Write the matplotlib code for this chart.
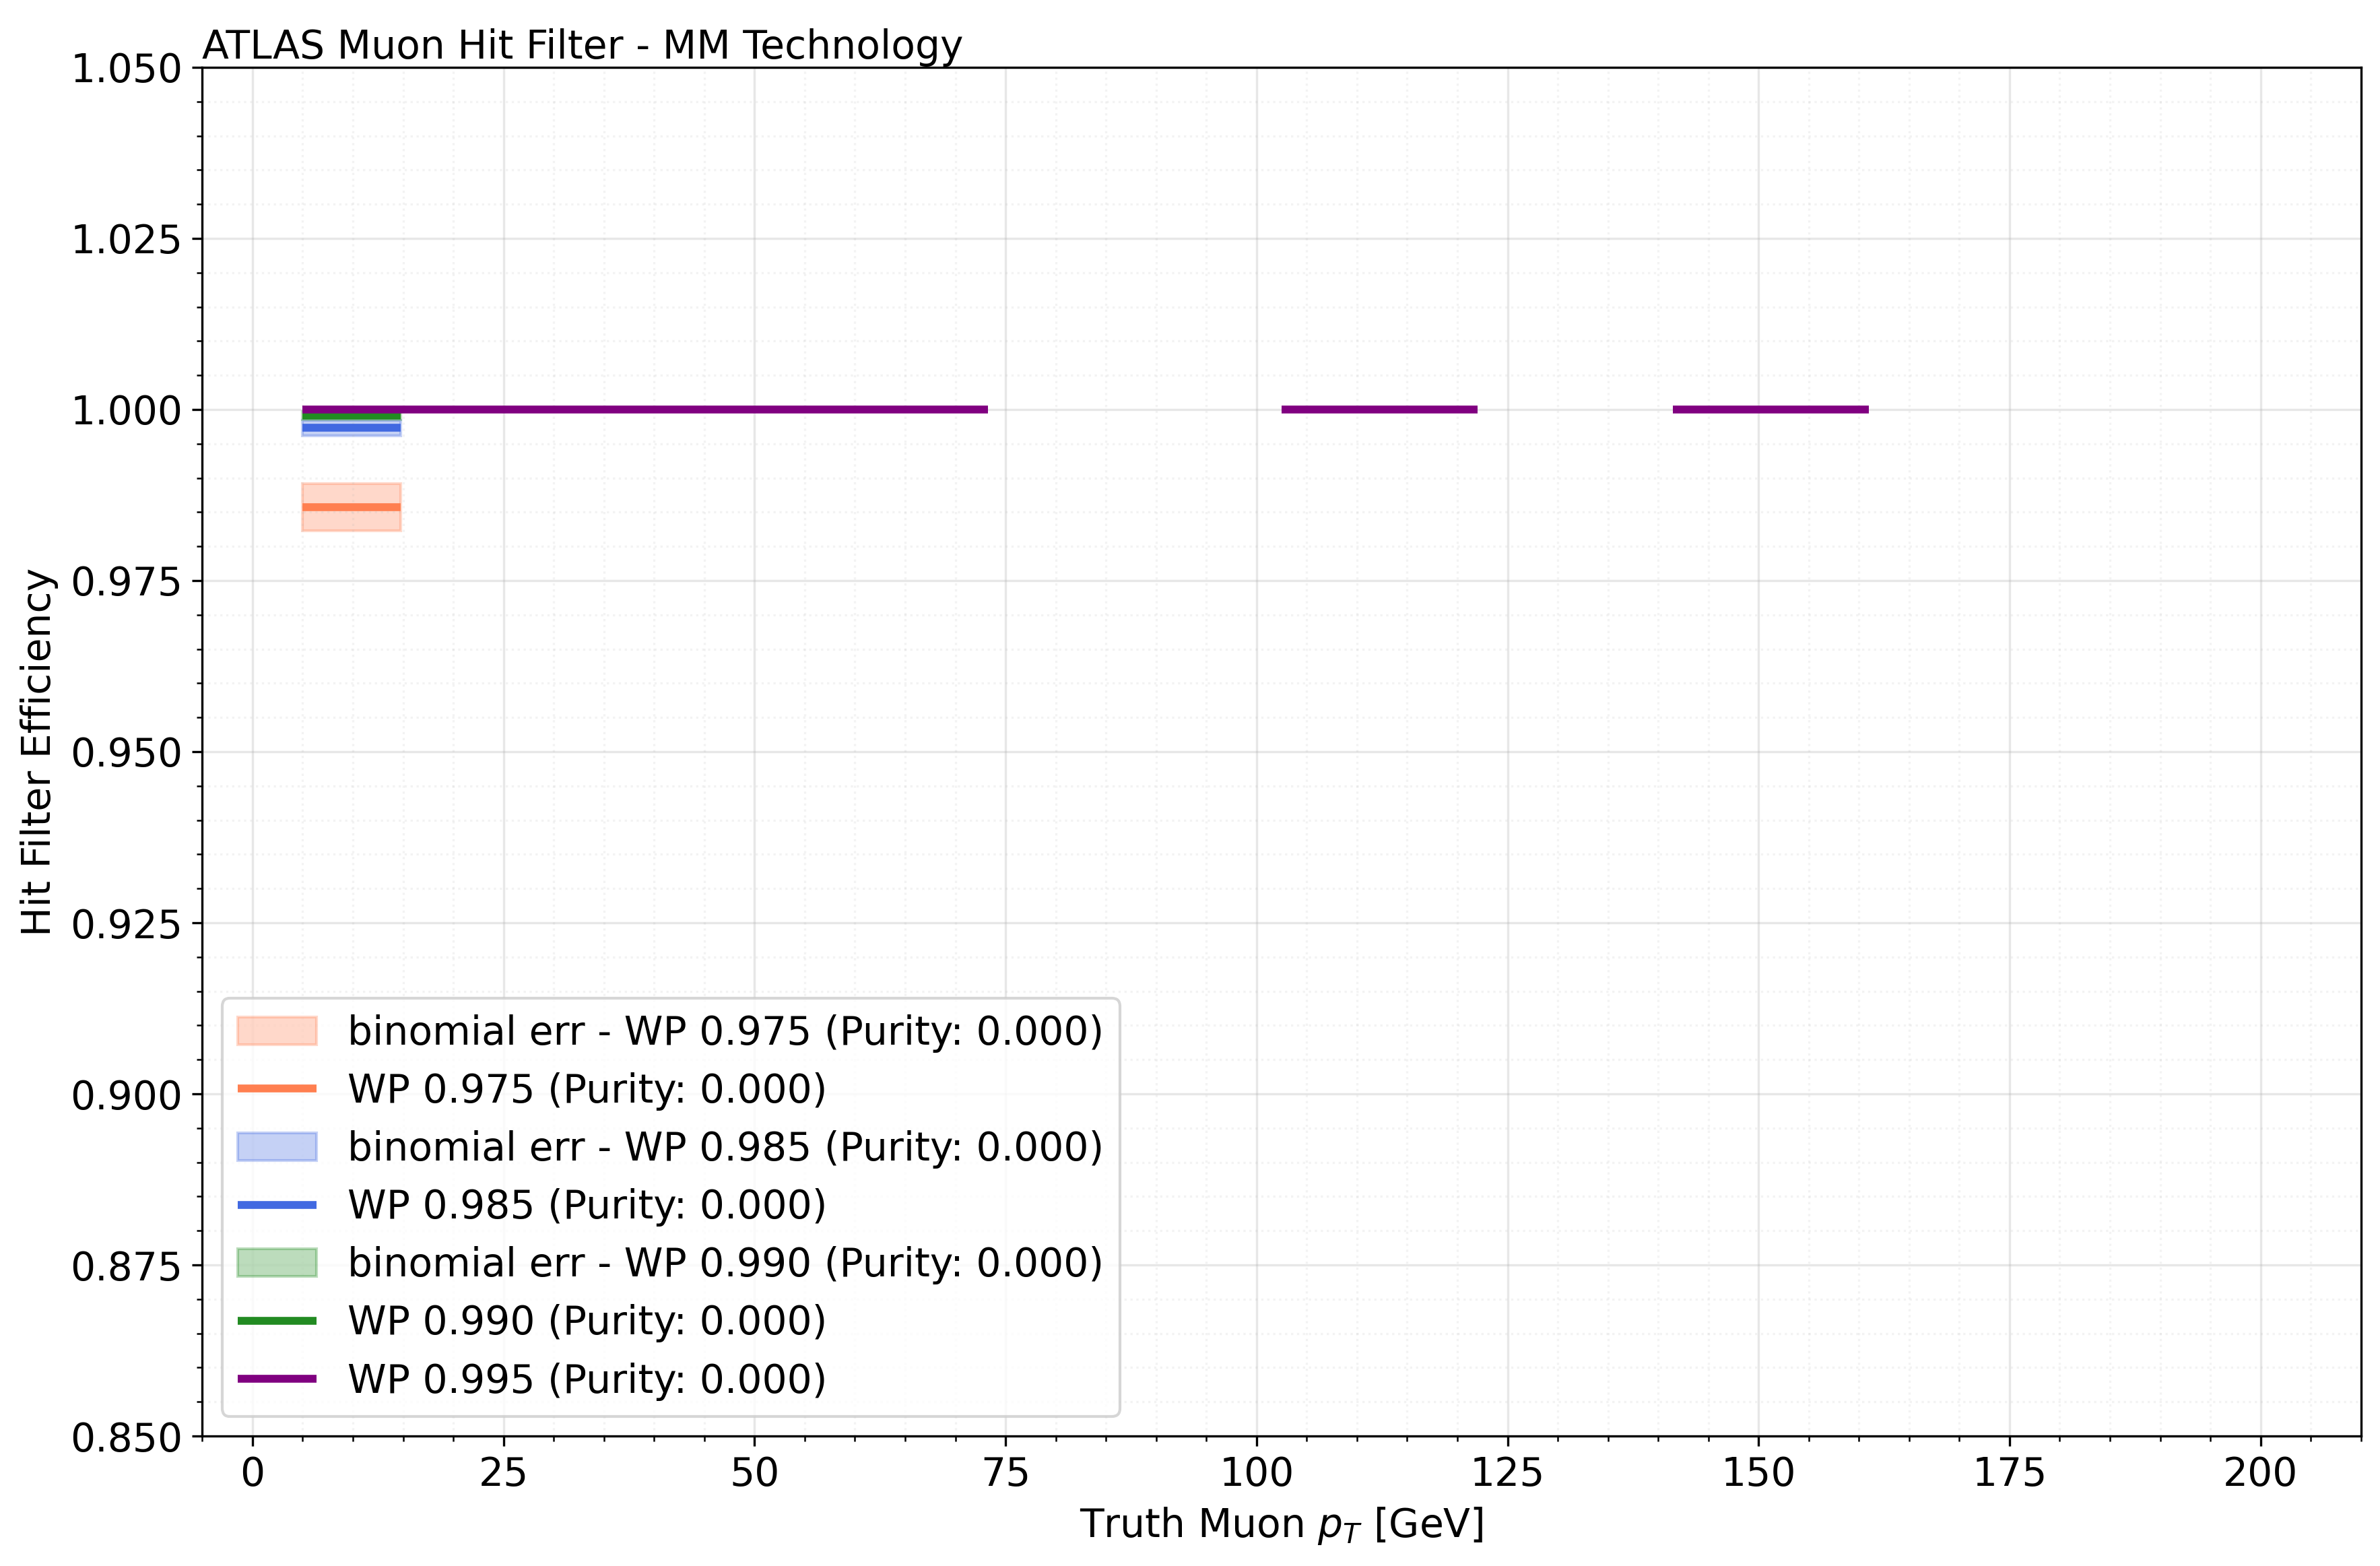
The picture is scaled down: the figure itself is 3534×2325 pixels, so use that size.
import matplotlib
matplotlib.use("Agg")
import matplotlib.pyplot as plt
import numpy as np

edges = np.linspace(5, 200, 21)
nan = np.nan

wps = ["0.975", "0.985", "0.990", "0.995"]
colors = ["coral", "royalblue", "forestgreen", "purple"]
eff_975 = [0.9857] + [nan] * 19
lo_975 = [0.9823] + [nan] * 19
hi_975 = [0.9892] + [nan] * 19
eff_985 = [0.9973] + [nan] * 19
lo_985 = [0.9962] + [nan] * 19
hi_985 = [0.9984] + [nan] * 19
eff_990 = [0.9991] + [nan] * 19
lo_990 = [0.9985] + [nan] * 19
hi_990 = [0.9997] + [nan] * 19
eff_995 = [1, 1, 1, 1, 1, 1, 1, nan, nan, nan, 1, 1, nan, nan, 1, 1, nan, nan, nan, nan]

effs = [eff_975, eff_985, eff_990, eff_995]
bands = [(lo_975, hi_975), (lo_985, hi_985), (lo_990, hi_990), None]

fig, ax = plt.subplots(figsize=(11.78, 7.75), dpi=300)
handles = []
for wp, c, eff, band in zip(wps, colors, effs, bands):
    if band is not None:
        lo, hi = np.array(band[0]), np.array(band[1])
        b = ax.bar(edges[:-1], hi - lo, width=np.diff(edges), bottom=lo, align="edge",
                   color=c, alpha=0.3, edgecolor=c, linewidth=1,
                   label=f"binomial err - WP {wp} (Purity: 0.000)")
        handles.append(b)
    ln = ax.hlines(eff, edges[:-1], edges[1:], colors=c, linewidth=2.8,
                   label=f"WP {wp} (Purity: 0.000)")
    handles.append(ln)

ax.set_xlim(-5, 210)
ax.set_ylim(0.85, 1.05)
ax.set_xlabel("Truth Muon $p_T$ [GeV]", fontsize=14)
ax.set_ylabel("Hit Filter Efficiency", fontsize=14)
ax.set_title("ATLAS Muon Hit Filter - MM Technology", loc="left", fontsize=14, pad=3)
ax.tick_params(labelsize=14)
ax.minorticks_on()
ax.grid(True, which="major", alpha=0.3)
ax.grid(True, which="minor", alpha=0.15, linestyle=":")
ax.legend(handles=handles, labels=[h.get_label() for h in handles],
          loc="lower left", fontsize=14)
fig.subplots_adjust(left=0.085, right=0.992, top=0.957, bottom=0.083)
fig.savefig("out.png", dpi=300)
